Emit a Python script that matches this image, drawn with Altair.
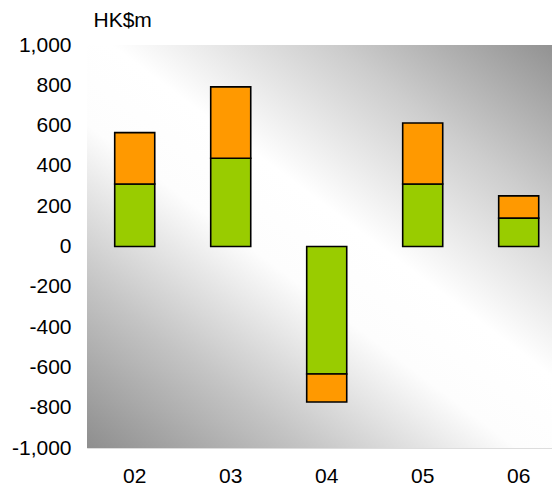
import altair as alt
import pandas as pd

years = ["02", "03", "04", "05", "06"]
green_vals = [310, 438, -633, 310, 141]
orange_vals = [255, 354, -139, 303, 110]
series_names = ["A", "B"]
colors = ["#99cc00", "#ff9900"]

rows = []
for y, g, o in zip(years, green_vals, orange_vals):
    rows.append({"year": y, "series": series_names[0], "order": 0, "value": g})
    rows.append({"year": y, "series": series_names[1], "order": 1, "value": o})
df = pd.DataFrame(rows)

W, H = 465, 403
FONT = "Liberation Sans"
FS = 21

grad = alt.LinearGradient(
    gradient="linear",
    stops=[
        alt.GradientStop(color="#8e8e8e", offset=0),
        alt.GradientStop(color="#c4c4c4", offset=0.22),
        alt.GradientStop(color="#fdfdfd", offset=0.43),
        alt.GradientStop(color="#ffffff", offset=0.56),
        alt.GradientStop(color="#cdcdcd", offset=0.78),
        alt.GradientStop(color="#929292", offset=1),
    ],
    x1=0.038, y1=1.033, x2=0.962, y2=-0.033,
)

bg = alt.Chart(alt.Data(values=[{"a": 1}])).mark_rect(fill=grad, strokeWidth=0).encode(
    x=alt.value(0), x2=alt.value("width"), y=alt.value(0), y2=alt.value("height")
)

bars = alt.Chart(df).mark_bar(stroke="black", strokeWidth=1.6).encode(
    x=alt.X("year:N", sort=years,
            scale=alt.Scale(paddingInner=0.583, paddingOuter=0.2135, align=0.676),
            axis=alt.Axis(title=None, labelAngle=0, domain=False, ticks=False,
                          labelFont=FONT, labelFontSize=FS, labelColor="black",
                          labelPadding=17)),
    y=alt.Y("value:Q", stack="zero",
            scale=alt.Scale(domain=[-1000, 1000], nice=False),
            axis=alt.Axis(values=list(range(-1000, 1001, 200)), grid=False,
                          domain=False, ticks=False,
                          labelExpr="datum.value < 0 ? '-' + format(-datum.value, ',') : format(datum.value, ',')",
                          labelFont=FONT, labelFontSize=FS, labelColor="black",
                          labelPadding=16,
                          title="HK$m", titleAngle=0, titleX=6, titleY=-19,
                          titleAlign="left", titleBaseline="alphabetic",
                          titleFont=FONT, titleFontSize=FS, titleFontWeight="normal",
                          titleColor="black")),
    color=alt.Color("series:N", scale=alt.Scale(domain=series_names, range=colors), legend=None),
    order=alt.Order("order:Q"),
)

chart = alt.layer(bg, bars).properties(
    width=W, height=H,
    autosize=alt.AutoSizeParams(type="none"),
    padding={"left": 79, "top": 37, "right": 0, "bottom": 38},
).configure_view(stroke=None).configure(background="white")

chart.save("out.html", embed_options={"renderer": "svg", "actions": False})
